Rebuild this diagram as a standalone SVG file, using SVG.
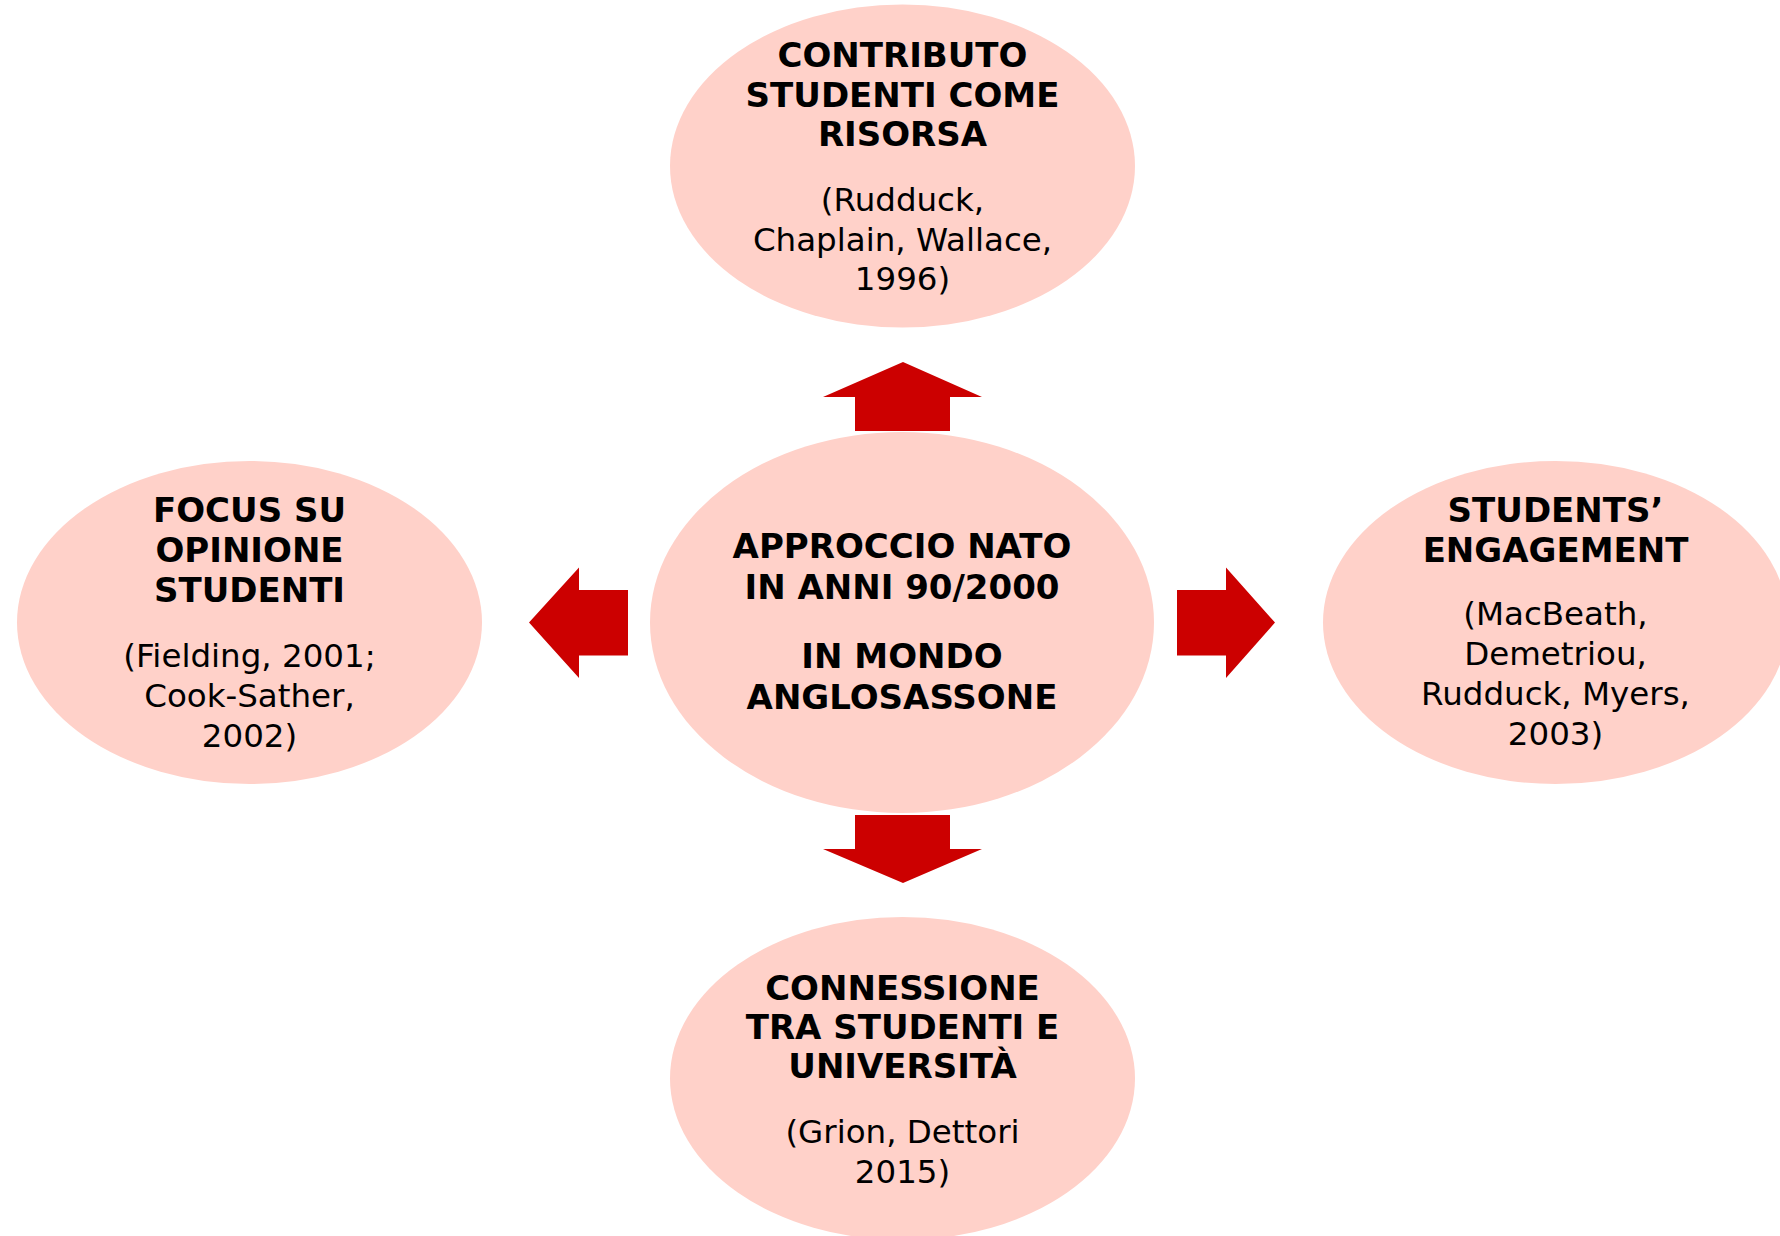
<svg xmlns="http://www.w3.org/2000/svg" width="1780" height="1236" viewBox="0 0 1780 1236">
<style>
.node{fill:#FFD1C9;}
.arrow{fill:#CC0000;}
text{font-family:"DejaVu Sans",Verdana,sans-serif;fill:#000;text-anchor:middle;}
.b{font-weight:bold;font-size:34px;}
.r{font-size:32.5px;}
</style>
<rect width="1780" height="1236" fill="#FFFFFF"/>
<g id="connectors">
<polygon class="arrow" points="903,362 982,397 950,397 950,431 855,431 855,397 823,397"/>
<polygon class="arrow" points="903,883 982,849 950,849 950,815 855,815 855,849 823,849"/>
<polygon class="arrow" points="529,622.5 579,567.5 579,590 628,590 628,655.5 579,655.5 579,678"/>
<polygon class="arrow" points="1275,622.5 1226,567.5 1226,590 1177,590 1177,655.5 1226,655.5 1226,678"/>
</g>
<g id="center">
<ellipse class="node" cx="902" cy="622.5" rx="252" ry="190.5"/>
<text class="b" x="902" y="558">APPROCCIO NATO</text>
<text class="b" x="902" y="598.5">IN ANNI 90/2000</text>
<text class="b" x="902" y="668">IN MONDO</text>
<text class="b" x="902" y="709">ANGLOSASSONE</text>
</g>
<g id="top">
<ellipse class="node" cx="902.5" cy="166" rx="232.5" ry="161.5"/>
<text class="b" x="902.5" y="67">CONTRIBUTO</text>
<text class="b" x="902.5" y="106.5">STUDENTI COME</text>
<text class="b" x="902.5" y="146">RISORSA</text>
<text class="r" x="902.5" y="211">(Rudduck,</text>
<text class="r" x="902.5" y="250.5">Chaplain, Wallace,</text>
<text class="r" x="902.5" y="290">1996)</text>
</g>
<g id="left">
<ellipse class="node" cx="249.5" cy="622.5" rx="232.5" ry="161.5"/>
<text class="b" x="249.5" y="522">FOCUS SU</text>
<text class="b" x="249.5" y="562">OPINIONE</text>
<text class="b" x="249.5" y="602">STUDENTI</text>
<text class="r" x="249.5" y="666.5">(Fielding, 2001;</text>
<text class="r" x="249.5" y="706.5">Cook-Sather,</text>
<text class="r" x="249.5" y="746.5">2002)</text>
</g>
<g id="right">
<ellipse class="node" cx="1555.5" cy="622.5" rx="232.5" ry="161.5"/>
<text class="b" x="1555.5" y="522">STUDENTS’</text>
<text class="b" x="1555.5" y="562">ENGAGEMENT</text>
<text class="r" x="1555.5" y="624.5">(MacBeath,</text>
<text class="r" x="1555.5" y="665">Demetriou,</text>
<text class="r" x="1555.5" y="705">Rudduck, Myers,</text>
<text class="r" x="1555.5" y="745">2003)</text>
</g>
<g id="bottom">
<ellipse class="node" cx="902.5" cy="1078.5" rx="232.5" ry="161.5"/>
<text class="b" x="902.5" y="1000">CONNESSIONE</text>
<text class="b" x="902.5" y="1039">TRA STUDENTI E</text>
<text class="b" x="902.5" y="1078">UNIVERSITÀ</text>
<text class="r" x="902.5" y="1143">(Grion, Dettori</text>
<text class="r" x="902.5" y="1183">2015)</text>
</g>
</svg>
